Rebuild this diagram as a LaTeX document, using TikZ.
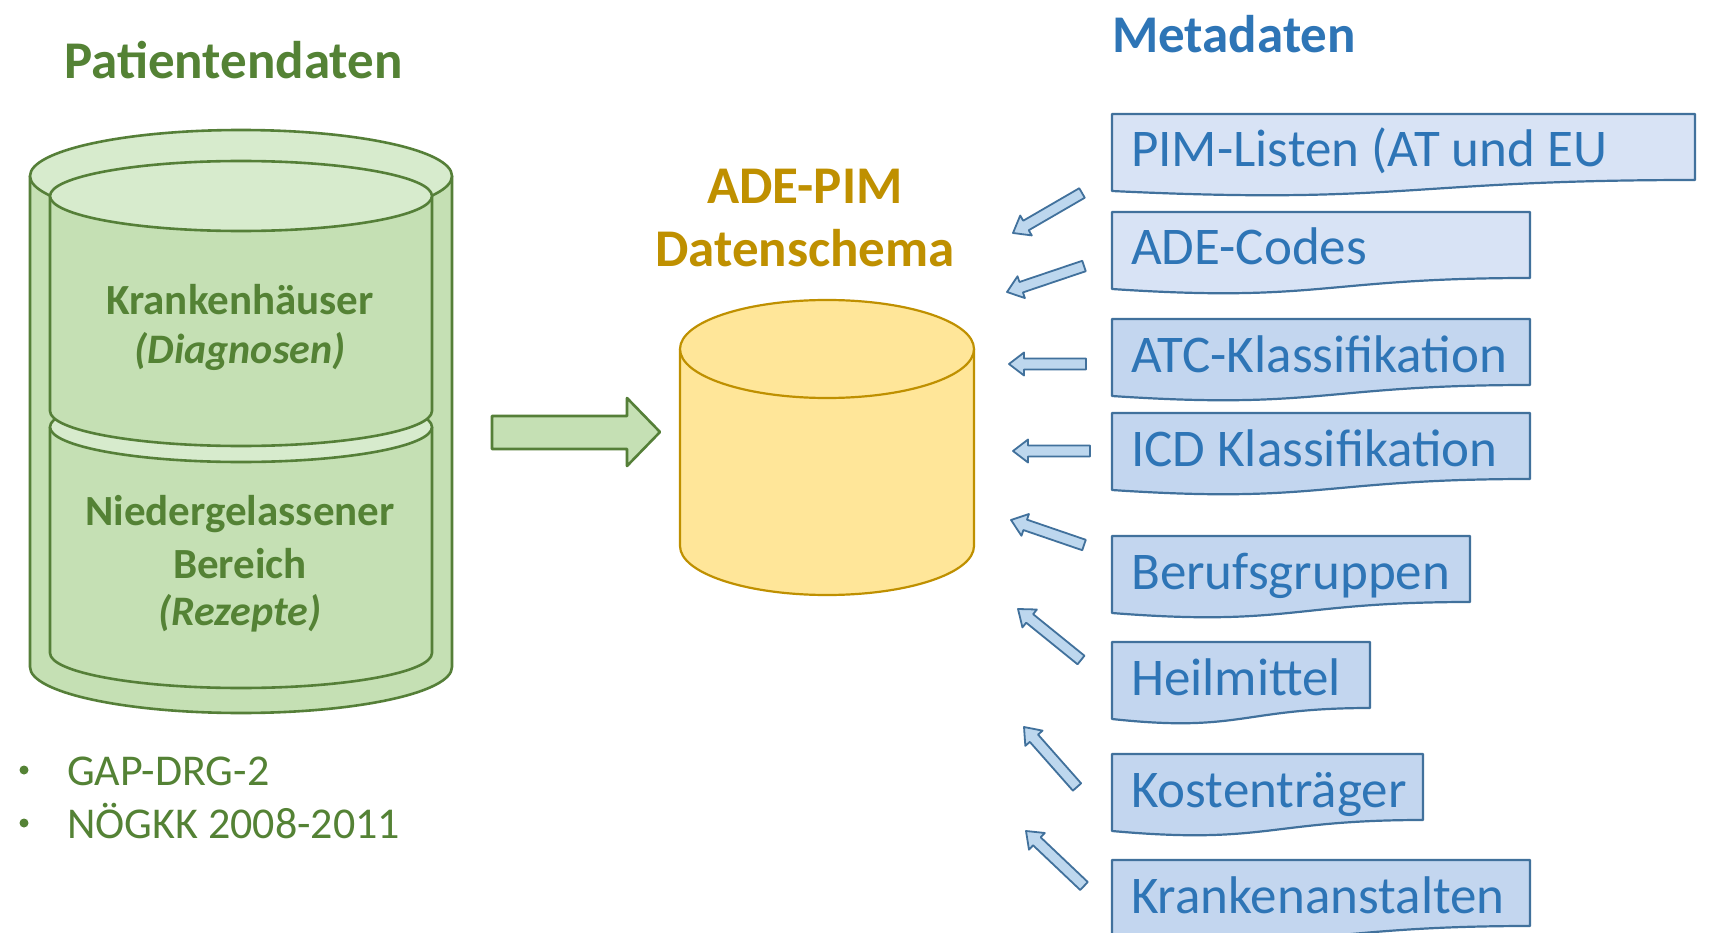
\documentclass[tikz,border=0pt]{standalone}
\usepackage{fontspec}
\setmainfont{Carlito}
\usetikzlibrary{calc}
\definecolor{gtxt}{HTML}{548235}
\definecolor{gline}{HTML}{557F38}
\definecolor{gfill}{HTML}{C5E0B4}
\definecolor{gtop}{HTML}{D7EBCD}
\definecolor{ytxt}{HTML}{BF9000}
\definecolor{yfill}{HTML}{FFE699}
\definecolor{yline}{HTML}{BF9000}
\definecolor{btxt}{HTML}{2E75B6}
\definecolor{bline}{HTML}{41719C}
\definecolor{bfillA}{HTML}{D8E3F5}
\definecolor{bfillB}{HTML}{C3D6EF}
\definecolor{afill}{HTML}{BDD7EE}

\newcommand\docbox[5]{%
  \draw[boxline, fill=#4] (1112,#3) -- (#2,#3) -- (#2,{#3+66})
    .. controls ({(1112+#2)/2},{#3+66}) and ({(1112+#2)/2},{#3+91}) .. (1112,{#3+77}) -- cycle;
  \node[boxtext] (#1) at (1131,{#3+53}) {#5};}

\newcommand\blarr[2]{%
  \coordinate (#1b) at ($(#2)!15pt!(#1)$);
  \draw[smallarr] ($(#1)!5.5pt!90:(#2)$) -- ($(#1b)!5.5pt!-90:(#1)$) -- ($(#1b)!11.5pt!-90:(#1)$)
    -- (#2) -- ($(#1b)!11.5pt!90:(#1)$) -- ($(#1b)!5.5pt!90:(#1)$) -- ($(#1)!5.5pt!-90:(#2)$) -- cycle;}

\begin{document}
\begin{tikzpicture}[x=1pt,y=-1pt,line join=round,
  titletext/.style={font=\fontsize{53}{60}\selectfont\bfseries, inner sep=0, anchor=base},
  cyltext/.style={font=\fontsize{43}{50}\selectfont\bfseries, text=gtxt, inner sep=0, anchor=base},
  cylital/.style={font=\fontsize{42}{50}\selectfont\bfseries\itshape, text=gtxt, inner sep=0, anchor=base},
  bullettext/.style={font=\fontsize{44}{50}\selectfont, text=gtxt, inner sep=0, anchor=base west},
  bulletdot/.style={circle, fill=gtxt, inner sep=0, minimum size=9pt},
  boxline/.style={draw=bline, line width=2.2pt},
  boxtext/.style={font=\fontsize{53}{60}\selectfont, text=btxt, inner sep=0, anchor=base west},
  smallarr/.style={draw=bline, fill=afill, line width=1.8pt},
  greenline/.style={draw=gline, line width=2.6pt},
]
\useasboundingbox[fill=white] (0,0) rectangle (1726,933);

% titles
\node[titletext, text=gtxt, anchor=base west] (pat) at (64,79) {Patientendaten};
\node[titletext, text=btxt, anchor=base west] (meta) at (1112,53) {Metadaten};
\node[titletext, text=ytxt] (ade1) at (805,204) {ADE-PIM};
\node[titletext, text=ytxt] (ade2) at (805,267) {Datenschema};

% outer green cylinder
\fill[gfill] (30,176) -- (30,667) arc[start angle=180,end angle=360,x radius=211pt,y radius=46pt] -- (452,176) -- cycle;
\draw[greenline] (30,176) -- (30,667) arc[start angle=180,end angle=360,x radius=211pt,y radius=46pt] -- (452,176);
\draw[greenline, fill=gtop] (241,176) ellipse[x radius=211pt, y radius=46pt];

% lower inner cylinder
\fill[gfill] (50,427) -- (50,653) arc[start angle=180,end angle=360,x radius=191pt,y radius=35pt] -- (432,427) -- cycle;
\draw[greenline] (50,427) -- (50,653) arc[start angle=180,end angle=360,x radius=191pt,y radius=35pt] -- (432,427);
\draw[greenline, fill=gtop] (241,427) ellipse[x radius=191pt, y radius=35pt];

% upper inner cylinder
\fill[gfill] (50,196) -- (50,411) arc[start angle=180,end angle=360,x radius=191pt,y radius=35pt] -- (432,196) -- cycle;
\draw[greenline] (50,196) -- (50,411) arc[start angle=180,end angle=360,x radius=191pt,y radius=35pt] -- (432,196);
\draw[greenline, fill=gtop] (241,196) ellipse[x radius=191pt, y radius=35pt];

\node[cyltext] (krank) at (240,314) {Krankenhäuser};
\node[cylital] (diag) at (240,363) {(Diagnosen)};
\node[cyltext] (nieder) at (240,525) {Niedergelassener};
\node[cyltext] (bereich) at (240,578) {Bereich};
\node[cylital] (rez) at (240,625) {(Rezepte)};

% bullets
\node[bulletdot] (bul1) at (24,770) {};
\node[bullettext] (gap) at (67,785) {GAP-DRG-2};
\node[bulletdot] (bul2) at (24,823) {};
\node[bullettext] (noe) at (67,838) {NÖGKK 2008-2011};

% green block arrow
\draw[greenline, fill=gfill] (492,416) -- (627,416) -- (627,398) -- (660,432) -- (627,466) -- (627,449) -- (492,449) -- cycle;

% yellow cylinder
\fill[yfill] (680,349) -- (680,546) arc[start angle=180,end angle=360,x radius=147pt,y radius=49pt] -- (974,349) -- cycle;
\draw[draw=yline, line width=2.2pt] (680,349) -- (680,546) arc[start angle=180,end angle=360,x radius=147pt,y radius=49pt] -- (974,349);
\draw[draw=yline, line width=2.2pt, fill=yfill] (827,349) ellipse[x radius=147pt, y radius=49pt];

% metadata boxes
\docbox{m1}{1695}{114}{bfillA}{PIM-Listen (AT und EU}
\docbox{m2}{1530}{212}{bfillA}{ADE-Codes}
\docbox{m3}{1530}{319}{bfillB}{ATC-Klassifikation}
\docbox{m4}{1530}{413}{bfillB}{ICD Klassifikation}
\docbox{m5}{1470}{536}{bfillB}{Berufsgruppen}
\docbox{m6}{1370}{642}{bfillB}{Heilmittel}
\docbox{m7}{1423}{754}{bfillB}{Kostenträger}
\docbox{m8}{1530}{860}{bfillB}{Krankenanstalten}

% small arrows
\coordinate (t1) at (1082,193); \coordinate (h1) at (1013,233);
\coordinate (t2) at (1084,266); \coordinate (h2) at (1007,292);
\coordinate (t3) at (1086,364); \coordinate (h3) at (1009,364);
\coordinate (t4) at (1090,451); \coordinate (h4) at (1013,451);
\coordinate (t5) at (1084,545); \coordinate (h5) at (1011,520);
\coordinate (t6) at (1081,660); \coordinate (h6) at (1018,609);
\coordinate (t7) at (1077,787); \coordinate (h7) at (1024,727);
\coordinate (t8) at (1084,886); \coordinate (h8) at (1026,831);
\blarr{t1}{h1}
\blarr{t2}{h2}
\blarr{t3}{h3}
\blarr{t4}{h4}
\blarr{t5}{h5}
\blarr{t6}{h6}
\blarr{t7}{h7}
\blarr{t8}{h8}
\end{tikzpicture}
\end{document}
